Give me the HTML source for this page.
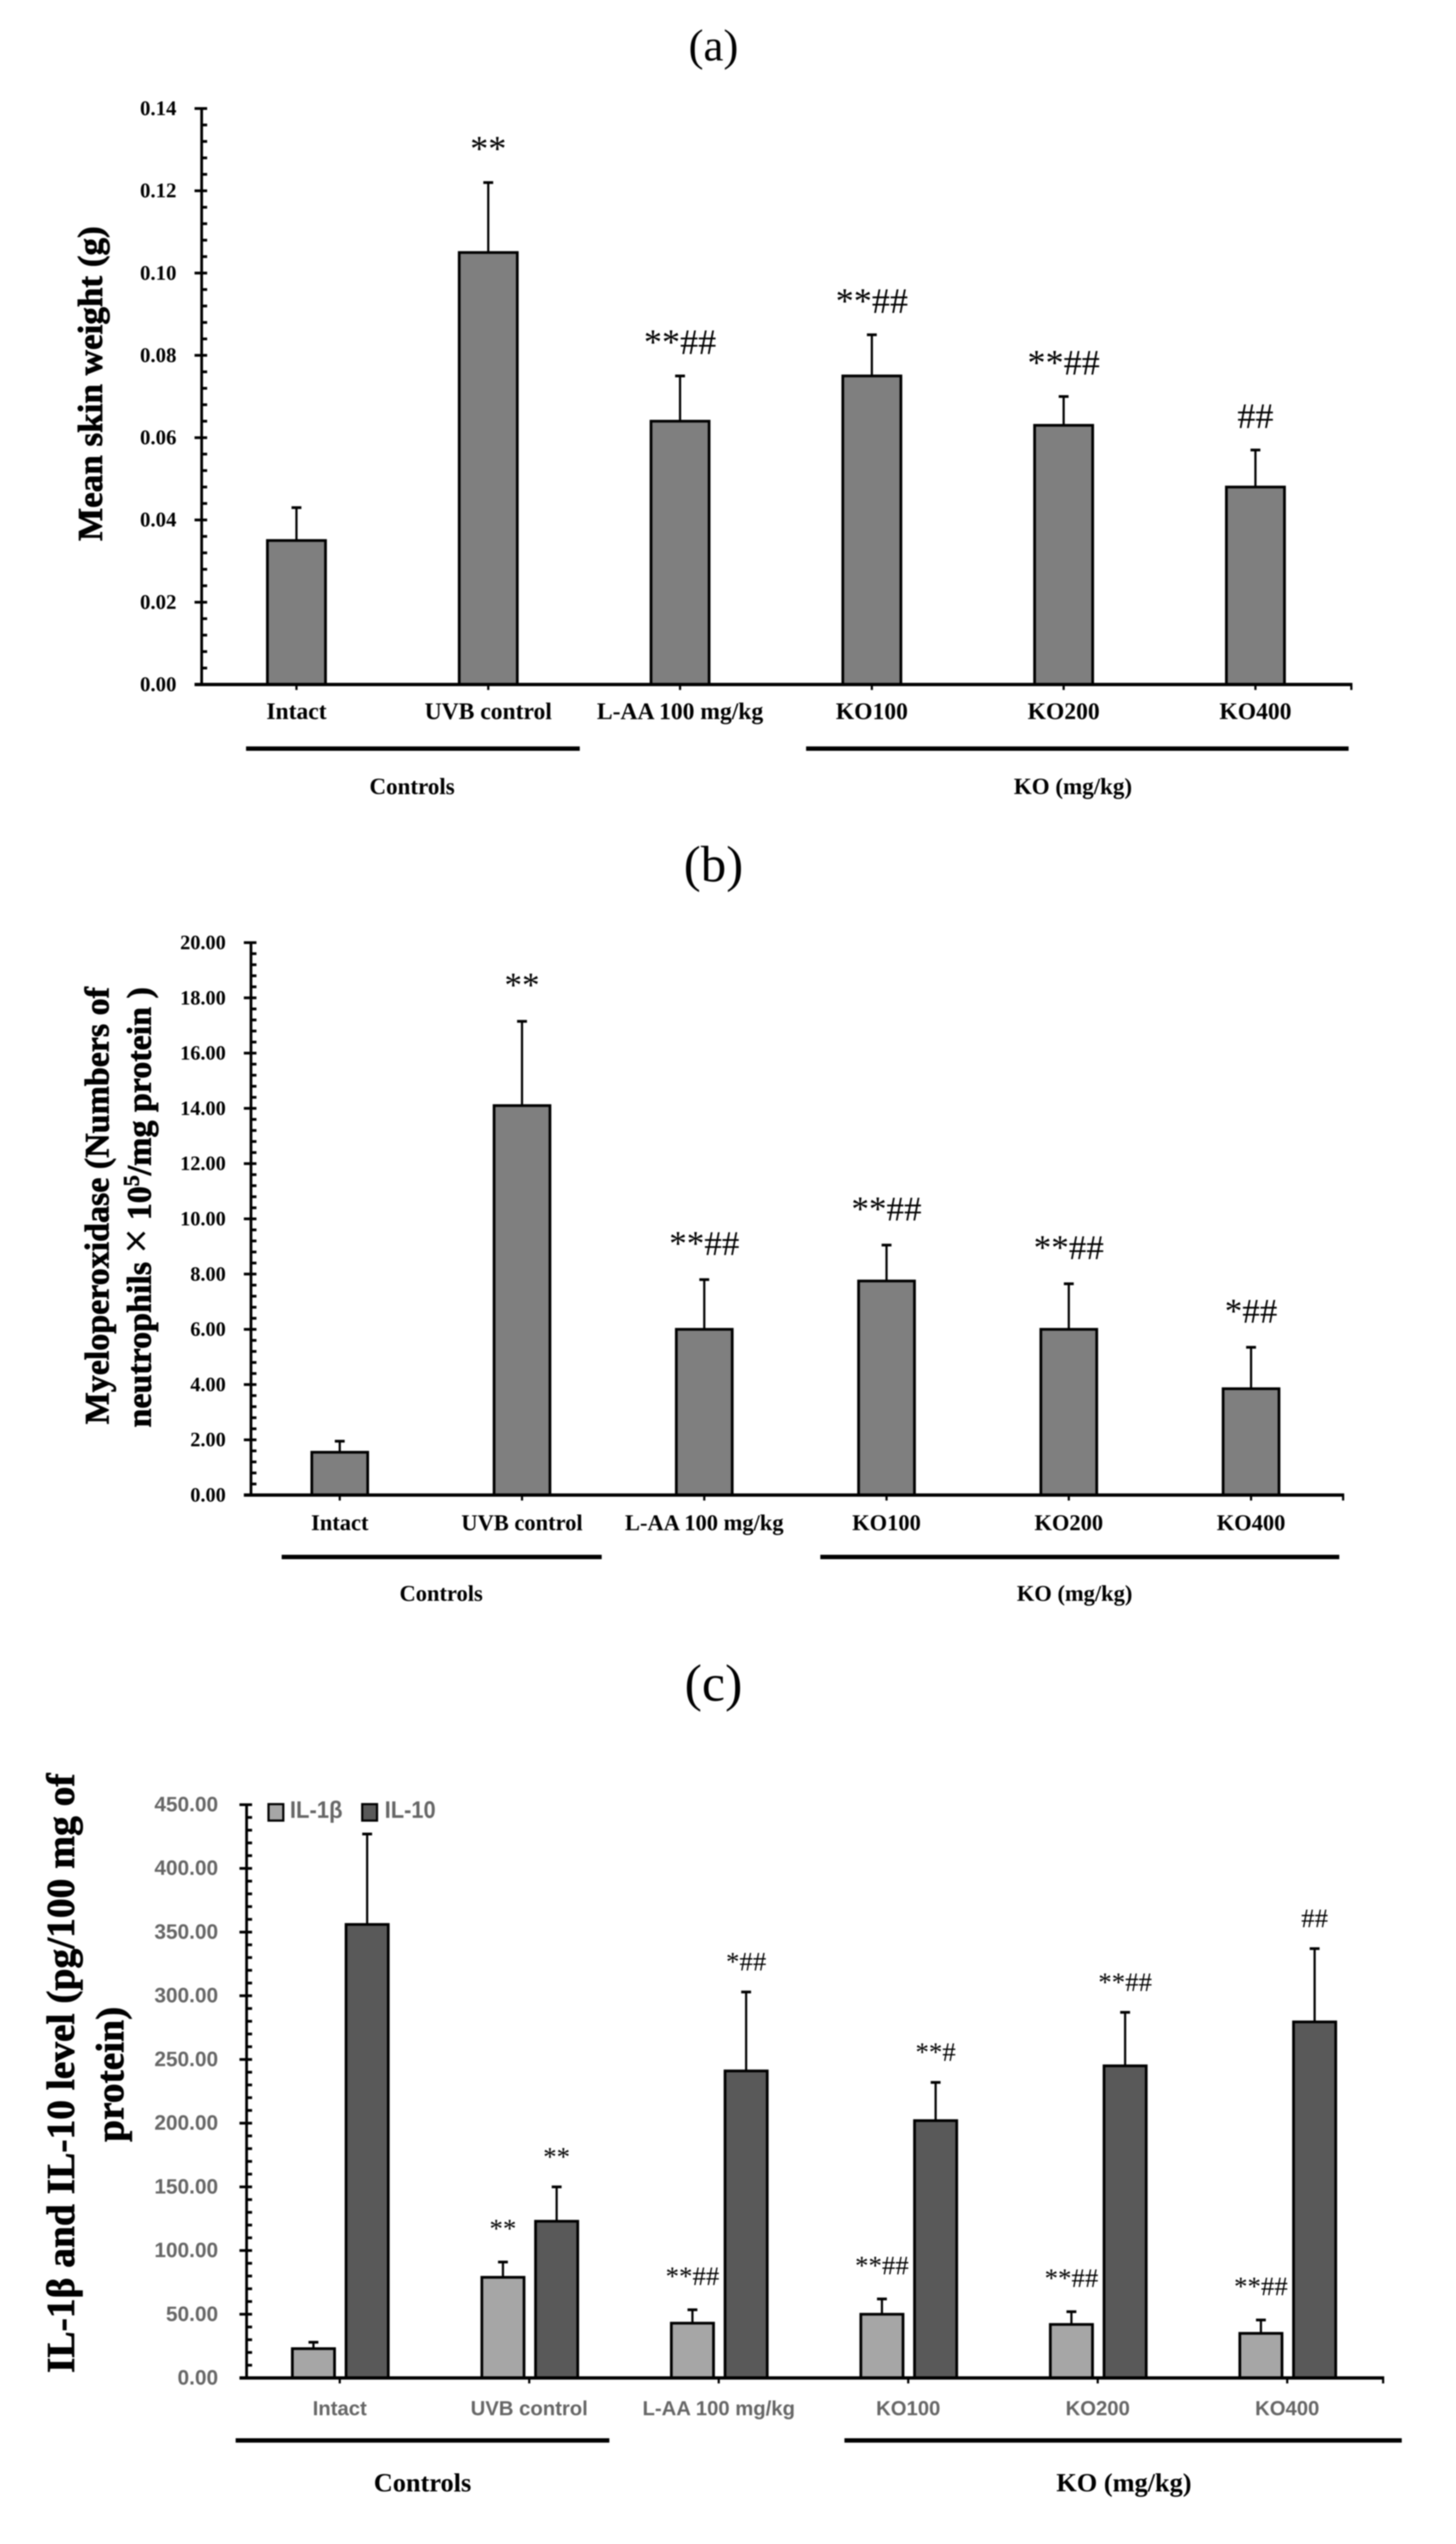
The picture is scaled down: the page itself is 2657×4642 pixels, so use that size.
<!DOCTYPE html>
<html lang="en">
<head>
<meta charset="utf-8">
<title>Skin weight, myeloperoxidase and cytokine bar charts</title>
<style>
html,body{margin:0;padding:0;background:#fff;}
body{width:2657px;height:4642px;overflow:hidden;}
svg{display:block;filter:blur(1px);}
.serif{font-family:"Liberation Serif",serif;}
.sans{font-family:"Liberation Sans",sans-serif;}
.heavy{stroke:#000;stroke-width:1.2px;}
</style>
</head>
<body>
<svg id="figure" xmlns="http://www.w3.org/2000/svg" width="2657" height="4642" viewBox="0 0 2657 4642">
  <rect width="2657" height="4642" fill="#fff"/>

  <text class="serif" x="1302" y="110" font-size="82" text-anchor="middle">(a)</text>
  <text class="serif" x="1302" y="1608" font-size="93" text-anchor="middle">(b)</text>
  <text class="serif" x="1302" y="3103" font-size="95" text-anchor="middle">(c)</text>

  <text class="serif heavy" font-weight="700" font-size="64" text-anchor="middle" transform="translate(186,700) rotate(-90)">Mean skin weight (g)</text>

  <text class="serif heavy" font-weight="700" font-size="62" text-anchor="middle" transform="translate(198,2200) rotate(-90)">Myeloperoxidase (Numbers of</text>
  <text class="serif heavy" font-weight="700" font-size="62" text-anchor="middle" transform="translate(275,2203) rotate(-90)">neutrophils <tspan font-size="80" font-weight="400">×</tspan> 10<tspan font-size="40" dy="-22">5</tspan><tspan dy="22">/mg protein )</tspan></text>

  <text class="serif heavy" font-weight="700" font-size="72" text-anchor="middle" transform="translate(135,3783) rotate(-90)">IL-1β and IL-10 level (pg/100 mg of</text>
  <text class="serif heavy" font-weight="700" font-size="72" text-anchor="middle" transform="translate(225,3785) rotate(-90)">protein)</text>

  <rect x="449" y="1362" width="609" height="8" fill="#000"/>
  <rect x="1471" y="1362" width="990" height="8" fill="#000"/>
  <text class="serif" font-weight="700" font-size="42" x="752" y="1449" text-anchor="middle">Controls</text>
  <text class="serif" font-weight="700" font-size="42" x="1958" y="1449" text-anchor="middle">KO (mg/kg)</text>

  <rect x="514" y="2837" width="584" height="8" fill="#000"/>
  <rect x="1497" y="2837" width="947" height="8" fill="#000"/>
  <text class="serif" font-weight="700" font-size="41" x="805" y="2921" text-anchor="middle">Controls</text>
  <text class="serif" font-weight="700" font-size="41" x="1961" y="2921" text-anchor="middle">KO (mg/kg)</text>

  <rect x="430" y="4449" width="682" height="8" fill="#000"/>
  <rect x="1541" y="4449" width="1017" height="8" fill="#000"/>
  <text class="serif" font-weight="700" font-size="48" x="771" y="4546" text-anchor="middle">Controls</text>
  <text class="serif" font-weight="700" font-size="48" x="2051" y="4546" text-anchor="middle">KO (mg/kg)</text>

  <g>
    <rect x="490" y="3292" width="27" height="30" fill="#a6a6a6" stroke="#000" stroke-width="4"/>
    <text class="sans" font-weight="700" font-size="44" fill="#666" x="529" y="3317" textLength="96" lengthAdjust="spacingAndGlyphs">IL-1β</text>
    <rect x="661" y="3292" width="27" height="30" fill="#595959" stroke="#000" stroke-width="4"/>
    <text class="sans" font-weight="700" font-size="44" fill="#666" x="702" y="3317" textLength="93" lengthAdjust="spacingAndGlyphs">IL-10</text>
  </g>

  <g id="chart-a"></g>
  <g id="chart-b"></g>
  <g id="chart-c"></g>
</svg>

<script>
// Shared categories
var categories = ['Intact', 'UVB control', 'L-AA 100 mg/kg', 'KO100', 'KO200', 'KO400'];

// Chart (a): mean skin weight
var aTicks = ['0.00', '0.02', '0.04', '0.06', '0.08', '0.10', '0.12', '0.14'];
var aValues = [0.035, 0.105, 0.064, 0.075, 0.063, 0.048];
var aErrors = [0.008, 0.017, 0.011, 0.010, 0.007, 0.009];
var aMarks = ['', '**', '**##', '**##', '**##', '##'];

// Chart (b): myeloperoxidase
var bTicks = ['0.00', '2.00', '4.00', '6.00', '8.00', '10.00', '12.00', '14.00', '16.00', '18.00', '20.00'];
var bValues = [1.55, 14.1, 6.0, 7.75, 6.0, 3.85];
var bErrors = [0.4, 3.05, 1.8, 1.3, 1.65, 1.5];
var bMarks = ['', '**', '**##', '**##', '**##', '*##'];

// Chart (c): IL-1β and IL-10
var cTicks = ['0.00', '50.00', '100.00', '150.00', '200.00', '250.00', '300.00', '350.00', '400.00', '450.00'];
var il1Values = [23, 79, 43, 50, 42, 35];
var il1Errors = [5, 12, 10.5, 12, 10, 10.5];
var il1Marks = ['', '**', '**##', '**##', '**##', '**##'];
var il10Values = [356, 123, 241, 202, 245, 279.5];
var il10Errors = [71, 27, 62, 30, 42, 57.5];
var il10Marks = ['', '**', '*##', '**#', '**##', '##'];

var SVG_NS = 'http://www.w3.org/2000/svg';

function make(parent, tag, name, attrs, text) {
  var el = document.createElementNS(SVG_NS, tag);
  
  
  for (var k in attrs) { el.setAttribute(k, attrs[k]); }
  if (text !== undefined) { el.textContent = text; }
  parent.appendChild(el);
  return el;
}

function drawAxes(root, c) {
  var top = parseFloat(c.ticks[c.ticks.length - 1]);
  var step = parseFloat(c.ticks[1]) - parseFloat(c.ticks[0]);
  c.y = function (v) { return c.y0 - (v / top) * (c.y0 - c.y1); };
  c.x = function (i) { return c.cx0 + i * c.cxStep; };

  c.ticks.forEach(function (label) {
    var v = parseFloat(label);
    make(root, 'line', 'y-tick', {x1: c.axisX - 13, x2: c.axisX + 10, y1: c.y(v), y2: c.y(v), stroke: '#000', 'stroke-width': 5});
    make(root, 'text', 'y-tick-label', {x: c.labelRight, y: c.y(v) + 12, 'text-anchor': 'end', 'font-size': c.tickFont, 'font-weight': 700, 'class': c.tickClass, fill: c.tickFill}, label);
    if (v < top) {
      for (var m = 1; m < 5; m++) {
        var my = c.y(v + step * m / 5);
        make(root, 'line', 'y-minor-tick', {x1: c.axisX, x2: c.axisX + 10, y1: my, y2: my, stroke: '#000', 'stroke-width': 5});
      }
    }
  });

  categories.forEach(function (cat, i) {
    make(root, 'line', 'x-tick', {x1: c.x(i), x2: c.x(i), y1: c.y0, y2: c.y0 + 10, stroke: '#000', 'stroke-width': 4});
    make(root, 'text', 'x-tick-label', {x: c.x(i), y: c.xLabelY, 'text-anchor': 'middle', 'font-size': c.xFont, 'font-weight': 700, 'class': c.tickClass, fill: c.tickFill}, cat);
  });
  make(root, 'line', 'x-axis-end-tick', {x1: c.axisEnd, x2: c.axisEnd, y1: c.y0, y2: c.y0 + 10, stroke: '#000', 'stroke-width': 4});
}

function drawSeries(root, c, values, errors, marks, s) {
  values.forEach(function (v, i) {
    var cx = c.x(i) + s.offset;
    var yv = c.y(v);
    var ye = c.y(v + errors[i]);
    make(root, 'line', 'error-bar', {x1: cx, x2: cx, y1: yv, y2: ye, stroke: '#000', 'stroke-width': 4});
    make(root, 'line', 'error-cap', {x1: cx - 9, x2: cx + 9, y1: ye, y2: ye, stroke: '#000', 'stroke-width': 5});
    make(root, 'rect', 'bar-' + s.name, {x: cx - s.width / 2, y: yv, width: s.width, height: c.y0 - yv, fill: s.fill, stroke: '#000', 'stroke-width': 5});
    if (marks[i]) {
      make(root, 'text', 'significance-mark', {x: cx, y: ye - s.gap, 'text-anchor': 'middle', 'font-size': s.markFont, 'class': 'serif'}, marks[i]);
    }
  });
}

function drawBaseline(root, c) {
  make(root, 'line', 'y-axis', {x1: c.axisX, x2: c.axisX, y1: c.y1 - 2, y2: c.y0, stroke: '#000', 'stroke-width': 5});
  make(root, 'line', 'x-axis', {x1: c.axisX - 13, x2: c.axisEnd + 2, y1: c.y0, y2: c.y0, stroke: '#000', 'stroke-width': 6});
}

var chartA = {ticks: aTicks, y0: 1249, y1: 198, axisX: 368, axisEnd: 2466, cx0: 541, cxStep: 350,
  labelRight: 322, tickFont: 38, tickClass: 'serif', tickFill: '#000', xFont: 43, xLabelY: 1312};
var rootA = document.getElementById('chart-a');
drawAxes(rootA, chartA);
drawSeries(rootA, chartA, aValues, aErrors, aMarks, {name: 'skin-weight', offset: 0, width: 106, fill: '#7f7f7f', gap: 40, markFont: 66});
drawBaseline(rootA, chartA);

var chartB = {ticks: bTicks, y0: 2728, y1: 1720, axisX: 458, axisEnd: 2451, cx0: 620, cxStep: 332.6,
  labelRight: 412, tickFont: 37, tickClass: 'serif', tickFill: '#000', xFont: 41, xLabelY: 2792};
var rootB = document.getElementById('chart-b');
drawAxes(rootB, chartB);
drawSeries(rootB, chartB, bValues, bErrors, bMarks, {name: 'myeloperoxidase', offset: 0, width: 102, fill: '#7f7f7f', gap: 45, markFont: 64});
drawBaseline(rootB, chartB);

var chartC = {ticks: cTicks, y0: 4339, y1: 3293, axisX: 450, axisEnd: 2524, cx0: 620, cxStep: 345.8,
  labelRight: 398, tickFont: 38, tickClass: 'sans', tickFill: '#666', xFont: 37, xLabelY: 4407};
var rootC = document.getElementById('chart-c');
drawAxes(rootC, chartC);
drawSeries(rootC, chartC, il1Values, il1Errors, il1Marks, {name: 'il-1b', offset: -48, width: 77, fill: '#a6a6a6', gap: 45, markFont: 49});
drawSeries(rootC, chartC, il10Values, il10Errors, il10Marks, {name: 'il-10', offset: 50, width: 77, fill: '#595959', gap: 39, markFont: 49});
drawBaseline(rootC, chartC);
</script>
</body>
</html>
